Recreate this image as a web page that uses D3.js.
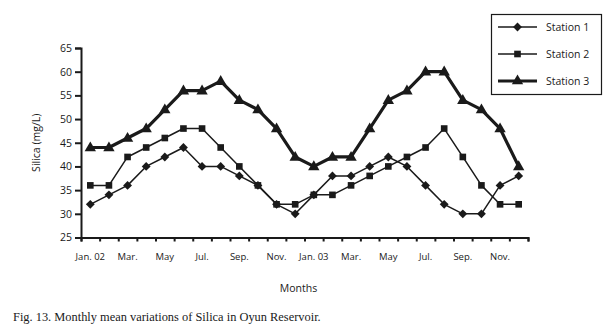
<!DOCTYPE html>
<meta charset="utf-8">
<title>Silica in Oyun Reservoir</title>
<script src="https://d3js.org/d3.v7.min.js"></script>
<style>
  body { margin: 0; background: #fff; }
  text { fill: #1a1a1a; }
</style>
<body>
<div id="viz"></div>
<script>
  // monthly means, Jan 2002 .. Dec 2003
  const monthLabels = ["Jan. 02", "", "Mar.", "", "May", "", "Jul.", "", "Sep.", "", "Nov.", "",
                       "Jan. 03", "", "Mar.", "", "May", "", "Jul.", "", "Sep.", "", "Nov.", ""];
  const station1 = [32, 34, 36, 40, 42, 44, 40, 40, 38, 36, 32, 30,
                    34, 38, 38, 40, 42, 40, 36, 32, 30, 30, 36, 38];
  const station2 = [36, 36, 42, 44, 46, 48, 48, 44, 40, 36, 32, 32,
                    34, 34, 36, 38, 40, 42, 44, 48, 42, 36, 32, 32];
  const station3 = [44, 44, 46, 48, 52, 56, 56, 58, 54, 52, 48, 42,
                    40, 42, 42, 48, 54, 56, 60, 60, 54, 52, 48, 40];
  const yTicks = [25, 30, 35, 40, 45, 50, 55, 60, 65];
  const seriesNames = ["Station 1", "Station 2", "Station 3"];

  const width = 612, height = 334;
  const ink = "#1a1a1a";
  const svg = d3.select("#viz").append("svg")
    .attr("width", width).attr("height", height)
    .style("font-family", "'Open Sans', 'Liberation Sans', sans-serif");

  const x = d3.scaleLinear().domain([0, monthLabels.length]).range([81, 528]);
  const y = d3.scaleLinear().domain([25, 65]).range([237.5, 48]);

  // axes
  const xAxis = svg.append("g").attr("transform", `translate(0,${y(25)})`)
    .call(d3.axisBottom(x).tickValues(d3.range(monthLabels.length + 1)).tickSize(4).tickFormat(""));
  xAxis.select(".domain").attr("stroke", ink).attr("stroke-width", 2);
  xAxis.selectAll(".tick line").attr("stroke", ink).attr("stroke-width", 2);

  svg.append("g").selectAll("text")
    .data(monthLabels.map((d, i) => ({label: d, i})).filter(d => d.label))
    .join("text")
    .attr("x", d => x(d.i + 0.5))
    .attr("y", 260)
    .attr("text-anchor", "middle")
    .style("font-size", "9.5px")
    .text(d => d.label);

  const yAxis = svg.append("g").attr("transform", `translate(${x(0)},0)`)
    .call(d3.axisLeft(y).tickValues(yTicks).tickSize(6).tickPadding(3));
  yAxis.select(".domain").attr("stroke", ink).attr("stroke-width", 2);
  yAxis.selectAll(".tick line").attr("stroke", ink).attr("stroke-width", 2);
  yAxis.selectAll(".tick text").style("font-size", "10.5px").attr("fill", ink)
    .style("font-family", "'Open Sans', 'Liberation Sans', sans-serif");

  svg.append("text")
    .attr("transform", `translate(40,${(y(25) + y(65)) / 2}) rotate(-90)`)
    .attr("text-anchor", "middle")
    .style("font-size", "10.5px")
    .text("Silica (mg/L)");

  svg.append("text")
    .attr("x", (x(0) + x(24)) / 2 - 6).attr("y", 292)
    .attr("text-anchor", "middle")
    .style("font-size", "10.5px")
    .text("Months");

  svg.append("text")
    .attr("x", 13).attr("y", 321)
    .style("font-family", "'Liberation Serif', 'DejaVu Serif', serif")
    .style("font-size", "12.4px")
    .text("Fig. 13. Monthly mean variations of Silica in Oyun Reservoir.");

  // markers
  const symbols = [
    d3.symbol().type(d3.symbolDiamond2).size(50),
    d3.symbol().type(d3.symbolSquare).size(44),
    d3.symbol().type(d3.symbolTriangle).size(56)
  ];
  const widths = [1.5, 1.5, 3.2];
  const series = [station1, station2, station3];

  const line = d3.line().x((d, i) => x(i + 0.5)).y(d => y(d));

  series.forEach((values, k) => {
    const g = svg.append("g");
    g.append("path").datum(values)
      .attr("d", line)
      .attr("fill", "none")
      .attr("stroke", ink)
      .attr("stroke-width", widths[k])
      .attr("stroke-linejoin", "round");
    g.selectAll("path.m").data(values).join("path")
      .attr("class", "m")
      .attr("transform", (d, i) => `translate(${x(i + 0.5)},${y(d) + (k === 2 ? 0.5 : 0)})`)
      .attr("d", symbols[k]())
      .attr("fill", ink);
  });

  // legend
  const legend = svg.append("g");
  legend.append("rect")
    .attr("x", 491.5).attr("y", 14.5).attr("width", 110).attr("height", 80)
    .attr("fill", "#fff").attr("stroke", ink).attr("stroke-width", 1.2);
  const rowY = [27, 54, 81];
  seriesNames.forEach((name, k) => {
    legend.append("line")
      .attr("x1", 498).attr("x2", 537).attr("y1", rowY[k]).attr("y2", rowY[k])
      .attr("stroke", ink).attr("stroke-width", widths[k]);
    legend.append("path")
      .attr("transform", `translate(517.5,${rowY[k]})`)
      .attr("d", symbols[k]())
      .attr("fill", ink);
    legend.append("text")
      .attr("x", 546).attr("y", rowY[k] + 4)
      .style("font-size", "10.5px")
      .text(name);
  });
</script>
</body>
